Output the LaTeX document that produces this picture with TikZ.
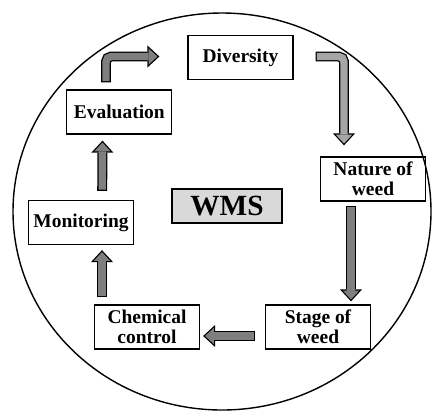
\documentclass[tikz,border=0pt]{standalone}
\usepackage{fontspec}
\setmainfont{Liberation Serif}
\usetikzlibrary{arrows.meta}
\definecolor{myGray}{RGB}{127,127,127}
\definecolor{myLight}{RGB}{166,166,166}
\definecolor{myBox}{RGB}{217,217,217}

\begin{document}
\begin{tikzpicture}[x=0.03cm,y=-0.03cm,
    box/.style={draw, line width=1.1pt, minimum width=3.15cm, minimum height=1.32cm, inner sep=0pt, align=center, font=\bfseries\fontsize{16.6}{16.8}\selectfont},
    barrow/.style={draw=#1, line width=6.3pt, shorten <=1.1pt, shorten >=1.6pt, -{Triangle[length=7.5pt,width=13.8pt,line width=0pt]},
        preaction={draw=black, line width=8.5pt, shorten <=0pt, shorten >=0pt, -{Triangle[length=10.2pt,width=18.8pt,line width=0pt]}}}]
    \useasboundingbox (0,0) rectangle (432,412);
    \draw[line width=1.2pt] (222,211.5) ellipse [x radius=209, y radius=198.5];

    \node[box] (dv) at (240.5,57.5) {Diversity};
    \node[box] (ev) at (119.3,112) {Evaluation};
    \node[box] (nt) at (373,179) {Nature of\\weed};
    \node[box] (mo) at (81,222.5) {Monitoring};
    \node[box, minimum width=3.3cm, minimum height=1.02cm, fill=myBox, font=\bfseries\fontsize{25}{25}\selectfont] (wms) at (227,206) {WMS};
    \node[box] (ch) at (147,327) {Chemical\\control};
    \node[box] (st) at (318,327) {Stage of\\weed};

    \draw[barrow=myGray, rounded corners=4.5pt] ([shift={(-13.3,-7)}]ev.north) |- ([shift={(-28,-1)}]dv.west);
    \draw[barrow=myLight, rounded corners=4.5pt] ([shift={(22,-1)}]dv.east) -| ([shift={(-29,-11)}]nt.north);
    \draw[barrow=myGray] ([shift={(-22,4)}]nt.south) -- ([shift={(33,-3)}]st.north);
    \draw[barrow=myGray] ([shift={(-10,9)}]st.west) -- ([shift={(3,9)}]ch.east);
    \draw[barrow=myGray] ([shift={(-45,-7)}]ch.north) -- ([shift={(21,5)}]mo.south);
    \draw[barrow=myGray] ([shift={(21.2,-9)}]mo.north) -- ([shift={(-16.8,6)}]ev.south);
\end{tikzpicture}
\end{document}
